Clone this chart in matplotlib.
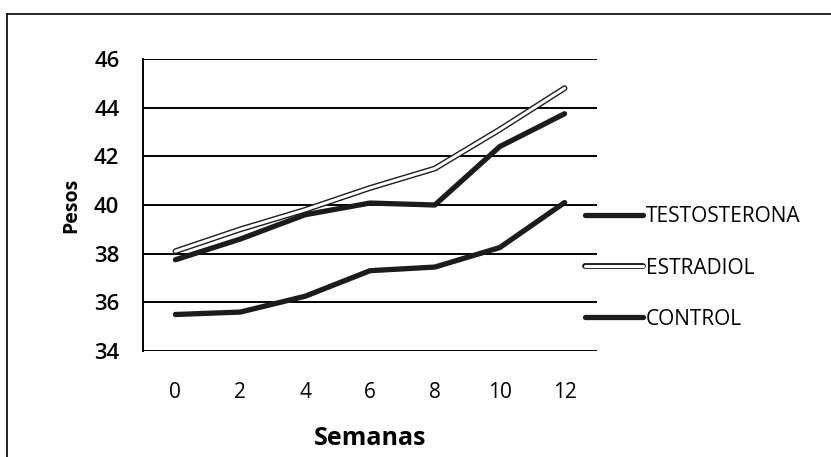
"""Pesos por semana: testosterona, estradiol y control."""

import matplotlib

matplotlib.use("Agg")
import matplotlib.patheffects as pe
import matplotlib.pyplot as plt
from matplotlib.lines import Line2D

semanas = ["0", "2", "4", "6", "8", "10", "12"]
testosterona = [37.75, 38.6, 39.6, 40.08, 40.0, 42.4, 43.75]
estradiol = [38.1, 39.0, 39.8, 40.7, 41.5, 43.1, 44.8]
control = [35.5, 35.6, 36.25, 37.3, 37.45, 38.25, 40.1]
y_ticks = [34, 36, 38, 40, 42, 44, 46]

plt.rcParams["font.family"] = ["Open Sans", "DejaVu Sans"]

fig = plt.figure(figsize=(8.31, 4.57), dpi=100)
ax = fig.add_axes([143 / 831, 1 - 351 / 457, 454 / 831, 292 / 457])

x = list(range(len(semanas)))
dark = "#1c1c1c"
ax.plot(x, control, color=dark, linewidth=3.8, solid_capstyle="round", label="CONTROL", zorder=3)
ax.plot(x, testosterona, color=dark, linewidth=3.8, solid_capstyle="round", label="TESTOSTERONA", zorder=3)
ax.plot(
    x,
    estradiol,
    color="white",
    linewidth=2.2,
    solid_capstyle="round",
    label="ESTRADIOL",
    zorder=4,
    path_effects=[pe.Stroke(linewidth=4.2, foreground=dark), pe.Normal()],
)

ax.set_xlim(-0.5, len(semanas) - 0.5)
ax.set_ylim(34, 46)
ax.set_xticks(x)
ax.set_xticklabels(semanas)
ax.set_yticks(y_ticks)
ax.tick_params(axis="both", length=0)
ax.tick_params(axis="y", pad=17, labelsize=16)
ax.tick_params(axis="x", pad=22, labelsize=15)
for lbl in ax.get_yticklabels():
    lbl.set_fontweight("semibold")
ax.grid(axis="y", color="black", linewidth=1.4)
ax.set_axisbelow(True)
for side in ["top", "right", "bottom"]:
    ax.spines[side].set_visible(False)
ax.spines["left"].set_linewidth(1.4)

ax.set_xlabel("Semanas", fontsize=18, fontweight="bold", labelpad=17)
ax.set_ylabel("Pesos", fontsize=14, fontweight="bold", labelpad=9)

handles, labels = ax.get_legend_handles_labels()
order = [1, 2, 0]
fig.legend(
    [handles[i] for i in order],
    [labels[i] for i in order],
    loc="center left",
    bbox_to_anchor=(566 / 831, 1 - 268 / 457),
    frameon=False,
    fontsize=15,
    handlelength=2.8,
    handletextpad=0.15,
    labelspacing=1.45,
)

# outer frame (left and top edges as in the scan)
fig.add_artist(Line2D([7 / 831, 7 / 831], [0, 1 - 14 / 457], color="black", linewidth=1.2))
fig.add_artist(Line2D([7 / 831, 1], [1 - 14 / 457, 1 - 14 / 457], color="black", linewidth=1.2))

fig.savefig("out.png", dpi=100)
plt.close(fig)
